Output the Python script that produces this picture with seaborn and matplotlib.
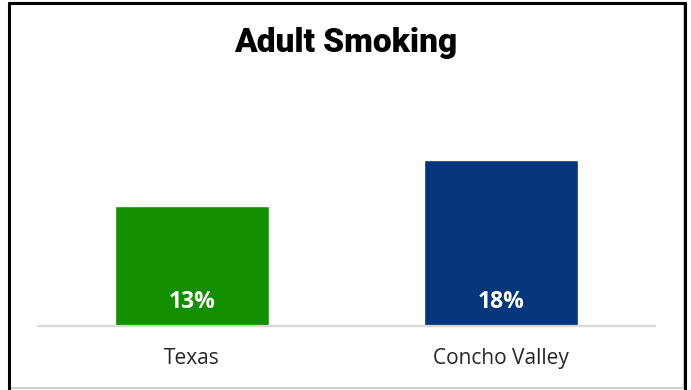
import matplotlib
matplotlib.use("Agg")
import matplotlib.pyplot as plt
from matplotlib.patches import Rectangle
import seaborn as sns
import pandas as pd

regions = ["Texas", "Concho Valley"]
smoking_pct = [13, 18]
bar_colors = ["#138f00", "#05357a"]

sns.set_theme(style="white")
plt.rcParams["font.family"] = ["Open Sans", "DejaVu Sans"]

df = pd.DataFrame({"region": regions, "pct": smoking_pct})

fig = plt.figure(figsize=(6.91, 3.90), dpi=100)
ax = fig.add_axes([38 / 691, 64 / 390, 617 / 691, 184 / 390])

sns.barplot(data=df, x="region", y="pct", hue="region", palette=bar_colors,
            width=0.5, legend=False, ax=ax, saturation=1)

ax.set_xlim(-0.5, 1.5)
ax.set_ylim(0, 20)
for s in ["top", "right", "left"]:
    ax.spines[s].set_visible(False)
ax.spines["bottom"].set_color("#d9d9d9")
ax.spines["bottom"].set_linewidth(1.6)
ax.set_yticks([])
ax.set_xlabel("")
ax.set_ylabel("")
ax.tick_params(axis="x", length=0, pad=16, labelsize=15, labelcolor="#262626")

for i, v in enumerate(smoking_pct):
    ax.text(i, 1.3, f"{v}%", ha="center", va="bottom", color="white",
            fontsize=16.5, fontweight="bold")

fig.text(346 / 691, 1 - 43 / 390, "Adult Smoking", ha="center", va="center",
         fontsize=24, fontweight=900, color="black", family=["Roboto", "DejaVu Sans"])

# outer frame
fig.patches.append(Rectangle((9 / 691, 2 / 390), 675 / 691, 385 / 390,
                             transform=fig.transFigure, fill=False,
                             edgecolor="#d0d0d0", linewidth=1.5))
fig.add_artist(plt.Line2D([9 / 691, 9 / 691], [0, 1 - 2.5 / 390],
                          transform=fig.transFigure, color="black", linewidth=2.2))
fig.add_artist(plt.Line2D([9 / 691, 684.5 / 691], [1 - 2.5 / 390, 1 - 2.5 / 390],
                          transform=fig.transFigure, color="black", linewidth=2.2))
fig.add_artist(plt.Line2D([684.5 / 691, 684.5 / 691], [0, 1 - 2.5 / 390],
                          transform=fig.transFigure, color="black", linewidth=2.2))

fig.savefig("out.png", dpi=100)
